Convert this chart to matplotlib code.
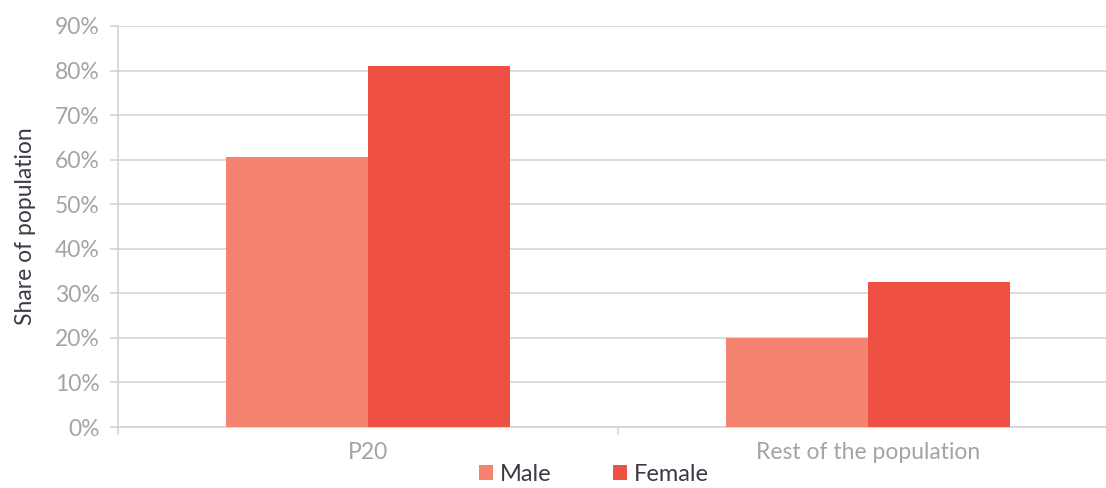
import numpy as np
import matplotlib
matplotlib.use('Agg')
import matplotlib.pyplot as plt
from matplotlib.ticker import FuncFormatter, FixedLocator

# data
categories = ['P20', 'Rest of the population']
series = ['Male', 'Female']
male = [60.5, 20.0]
female = [81.0, 32.5]
colors = ['#F4846F', '#EF5044']

plt.rcParams['font.family'] = ['Lato', 'DejaVu Sans']

fig = plt.figure(figsize=(11.06, 4.88), dpi=100)
ax = fig.add_axes([118 / 1106, 61 / 488, 1000 / 1106, 401 / 488])

x = np.arange(len(categories))
w = 0.284
ax.bar(x - w / 2, male, w, color=colors[0], label=series[0], zorder=3)
ax.bar(x + w / 2, female, w, color=colors[1], label=series[1], zorder=3)

ax.set_xlim(-0.5, 1.5)
ax.set_ylim(0, 90)
ax.set_yticks(np.arange(0, 91, 10))
ax.yaxis.set_major_formatter(FuncFormatter(lambda v, p: '%d%%' % v))
ax.set_xticks(x)
ax.set_xticklabels(categories)
ax.xaxis.set_minor_locator(FixedLocator([-0.5, 0.5, 1.5]))

grid_c = '#D5D3D8'
label_c = '#A4A3A9'
ax.grid(axis='y', color=grid_c, linewidth=1.2, zorder=0)
for s in ['top', 'right']:
    ax.spines[s].set_visible(False)
ax.spines['left'].set_color(grid_c)
ax.spines['bottom'].set_color(grid_c)
ax.spines['left'].set_linewidth(1.2)
ax.spines['bottom'].set_linewidth(1.2)

ax.tick_params(axis='y', colors=grid_c, labelcolor=label_c, labelsize=16.5, length=6, width=1.2, pad=7)
ax.tick_params(axis='x', which='major', length=0, labelcolor=label_c, labelsize=16.5, pad=11)
ax.tick_params(axis='x', which='minor', length=6, width=1.2, colors=grid_c)

ax.set_ylabel('Share of population', fontsize=16.5, color='#3C3B45', labelpad=14)

fig.legend(loc='lower center', bbox_to_anchor=(0.537, -0.038), ncol=2, frameon=False,
           fontsize=17, handlelength=0.6, handleheight=0.6, handletextpad=0.3,
           columnspacing=2.6, labelcolor='#3C3B45')

plt.savefig('out.png', dpi=100)
